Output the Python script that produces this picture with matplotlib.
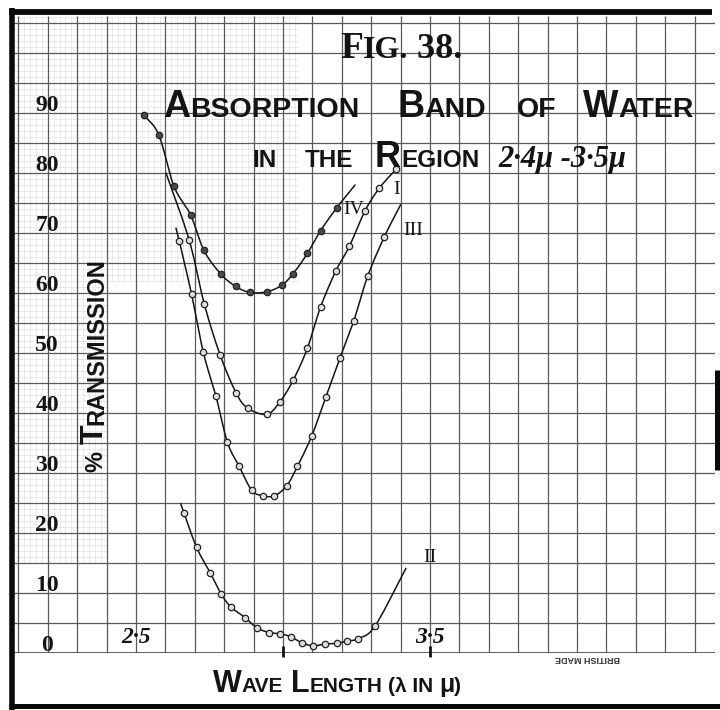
import numpy as np
import matplotlib
matplotlib.use("Agg")
import matplotlib.pyplot as plt
from matplotlib import font_manager
from matplotlib.lines import Line2D

# ---------------- data ----------------
# Curve IV
iv_x = [2.527, 2.578, 2.629, 2.686, 2.731, 2.788, 2.839, 2.888, 2.945, 2.996,
        3.034, 3.083, 3.128, 3.183]
iv_y = [89.7, 86.3, 77.8, 73.0, 67.1, 63.2, 61.1, 60.1, 60.2, 61.3,
        63.2, 66.6, 70.4, 74.2]
iv_line_start = None
iv_line_end = (3.245, 78.0)

# Curve I
i_x = [2.681, 2.732, 2.786, 2.840, 2.880, 2.945, 2.990, 3.035, 3.083, 3.128,
       3.180, 3.226, 3.279, 3.328, 3.384]
i_y = [68.8, 58.2, 49.7, 43.4, 40.8, 39.8, 41.9, 45.5, 50.8, 57.7,
       63.7, 67.8, 73.7, 77.5, 80.6]
i_line_start = (2.602, 80.0)
i_line_end = None

# Curve III
iii_x = [2.647, 2.689, 2.729, 2.772, 2.811, 2.851, 2.894, 2.933, 2.971, 3.013,
         3.049, 3.098, 3.146, 3.194, 3.241, 3.288, 3.345]
iii_y = [68.7, 59.8, 50.1, 42.8, 35.1, 31.1, 27.1, 26.2, 26.2, 27.9,
         31.1, 36.2, 42.7, 49.2, 55.4, 62.8, 69.4]
iii_line_start = (2.636, 70.8)
iii_line_end = (3.400, 74.7)

# Curve II
ii_x = [2.663, 2.706, 2.752, 2.789, 2.822, 2.871, 2.911, 2.953, 2.990, 3.027,
        3.064, 3.103, 3.143, 3.183, 3.219, 3.256, 3.313]
ii_y = [23.4, 17.6, 13.4, 9.9, 7.7, 5.9, 4.2, 3.4, 3.2, 2.7,
        1.7, 1.2, 1.5, 1.6, 2.0, 2.4, 4.5]
ii_line_start = (2.652, 24.9)
ii_line_end = (3.418, 14.1)

y_tick_values = [0, 10, 20, 30, 40, 50, 60, 70, 80, 90]
y_tick_labels = ["0", "10", "20", "30", "40", "50", "60", "70", "80", "90"]
x_mark_values = [2.5, 3.5]
x_mark_labels = ["2·5", "3·5"]
x_tick_marks = [3.0, 3.5]

curve_names = ["I", "II", "III", "IV"]
curve_label_pos = {"I": (3.387, 77.2), "II": (3.500, 15.9), "III": (3.443, 70.5), "IV": (3.240, 74.0)}

# ---------------- fonts ----------------
names = {f.name for f in font_manager.fontManager.ttflist}
SANS = "Liberation Sans Narrow" if "Liberation Sans Narrow" in names else "Liberation Sans"
SERIF = "Liberation Serif"
INK = "#141414"

W, H = 720, 710
fig = plt.figure(figsize=(7.2, 7.1), dpi=100)
fig.patch.set_facecolor("white")
renderer = fig.canvas.get_renderer()

# axes occupying the graph-paper area
left_px, right_px, top_px, bottom_px = 14, 715, 16, 653
ax = fig.add_axes([left_px / W, 1 - bottom_px / H,
                   (right_px - left_px) / W, (bottom_px - top_px) / H])
ax.set_facecolor("white")
xmin, xmax = 2.5 + (left_px - 136) / 294, 2.5 + (right_px - 136) / 294
ymin, ymax = 0.0, (bottom_px - top_px) / 6.0
ax.set_xlim(xmin, xmax)
ax.set_ylim(ymin, ymax)
for sp in ax.spines.values():
    sp.set_visible(False)
ax.tick_params(length=0, labelbottom=False, labelleft=False)

# fine grid in the upper-left part of the paper (faded elsewhere)
fine_col = "#dadada"
fx = np.arange(2.1, 3.06, 0.02)
ax.vlines(fx, 62, ymax, colors=fine_col, lw=0.4, zorder=0)
ax.hlines(np.arange(62, ymax, 1.0), xmin, 3.05, colors=fine_col, lw=0.4, zorder=0)
fx2 = np.arange(2.1, 2.42, 0.02)
ax.vlines(fx2, 15, 62, colors=fine_col, lw=0.4, zorder=0)
ax.hlines(np.arange(15, 62, 1.0), xmin, 2.4, colors=fine_col, lw=0.4, zorder=0)

# main grid
gx = np.round(np.arange(2.1, 4.45, 0.1), 3)
gy = np.arange(5, 106, 5)
ax.vlines(gx, ymin, ymax, colors="#5a5a5a", lw=0.9, zorder=1)
ax.hlines(gy, xmin, xmax, colors="#5a5a5a", lw=0.9, zorder=1)
ax.hlines([0], xmin, xmax, colors="#444444", lw=1.2, zorder=1)


def smooth(xs, ys, n=12):
    # Catmull-Rom through the given points, in pixel-like space
    px = np.asarray(xs) * 294.0
    py = np.asarray(ys) * 6.0
    P = np.column_stack([px, py])
    P = np.vstack([2 * P[0] - P[1], P, 2 * P[-1] - P[-2]])
    out = []
    for k in range(1, len(P) - 2):
        p0, p1, p2, p3 = P[k - 1], P[k], P[k + 1], P[k + 2]
        for t in np.linspace(0, 1, n, endpoint=False):
            t2, t3 = t * t, t * t * t
            pt = 0.5 * ((2 * p1) + (-p0 + p2) * t + (2 * p0 - 5 * p1 + 4 * p2 - p3) * t2
                        + (-p0 + 3 * p1 - 3 * p2 + p3) * t3)
            out.append(pt)
    out.append(P[-2])
    out = np.array(out)
    return out[:, 0] / 294.0, out[:, 1] / 6.0


curves = [
    (iv_x, iv_y, iv_line_start, iv_line_end, "#4a4a4a"),
    (i_x, i_y, i_line_start, i_line_end, "#dedede"),
    (iii_x, iii_y, iii_line_start, iii_line_end, "#dedede"),
    (ii_x, ii_y, ii_line_start, ii_line_end, "#dedede"),
]
for cx, cy, ls, le, mfc in curves:
    lx, ly = list(cx), list(cy)
    if ls is not None:
        lx = [ls[0]] + lx
        ly = [ls[1]] + ly
    if le is not None:
        lx = lx + [le[0]]
        ly = ly + [le[1]]
    sx, sy = smooth(lx, ly)
    ax.plot(sx, sy, color=INK, lw=1.1, zorder=3, solid_capstyle="round")
    ax.plot(cx, cy, ls="none", marker="o", ms=4.6, mfc=mfc, mec="#222222",
            mew=0.9, zorder=4)

for nm in curve_names:
    x, y = curve_label_pos[nm]
    ax.text(x, y, nm, family=SERIF, fontsize=14, color=INK, ha="center",
            va="center", zorder=5)

# y values written on the paper
for v, lab in zip(y_tick_values, y_tick_labels):
    ax.text(2.5 + (47 - 136) / 294, v + 0.4, lab, family=SERIF, weight="bold",
            fontsize=17, color=INK, ha="center", va="baseline", zorder=5)

# wavelength marks
for v, lab in zip(x_mark_values, x_mark_labels):
    ax.text(v, 1.6, lab, family=SERIF, style="italic", weight="bold",
            fontsize=17, color=INK, ha="center", va="baseline", zorder=5)
ax.vlines(x_tick_marks, -0.6, 1.2, colors=INK, lw=2.0, zorder=5, clip_on=False)


# ---------------- hand lettering ----------------
def lettering(x, y, pieces, family, weight="bold", style="normal", rotation=0):
    for s, size in pieces:
        t = fig.text(x / W, 1 - y / H, s, fontsize=size, family=family, weight=weight,
                     style=style, ha="left", va="baseline", rotation=rotation,
                     rotation_mode="anchor", color=INK)
        bb = t.get_window_extent(renderer=renderer)
        if rotation == 90:
            y -= bb.height
        else:
            x += bb.width


lettering(340, 58, [("F", 27), ("IG.", 23), (" 38.", 26)], SERIF)

lettering(163, 117, [("A", 27), ("BSORPTION", 20.5)], SANS)
lettering(397, 117, [("B", 27), ("AND", 20.5)], SANS)
lettering(517, 117, [("OF", 20.5)], SANS)
lettering(583, 117, [("W", 27), ("ATER", 20.5)], SANS)

lettering(252, 167, [("IN", 17.5)], SANS)
lettering(305, 167, [("THE", 17.5)], SANS)
lettering(375, 167, [("R", 26), ("EGION", 17.5)], SANS)
lettering(498, 167, [("2·4μ -3·5μ", 22)], SERIF, style="italic")

lettering(213, 692, [("W", 22), ("AVE", 15)], SANS)
lettering(291, 692, [("L", 22), ("ENGTH", 15)], SANS)
lettering(388, 692, [("(λ IN ", 15), ("μ", 18), (")", 15)], SANS)

lettering(103, 472, [("% ", 17), ("T", 23), ("RANSMISSION", 17)], SANS, rotation=90)

fig.text(587 / W, 1 - 658 / H, "BRITISH MADE", fontsize=6.5, family=SANS,
         weight="bold", color="#333333", rotation=180, ha="center", va="center")

# ---------------- sheet borders ----------------
def fline(x0, y0, x1, y1, lw):
    fig.add_artist(Line2D([x0 / W, x1 / W], [1 - y0 / H, 1 - y1 / H], color="#0a0a0a",
                          lw=lw, solid_capstyle="butt"))


fline(12, 8, 12, 710, 4.0)
fline(9, 12, 712, 12, 4.2)
fline(9, 706, 720, 706, 3.6)
fline(717, 370, 717, 470, 3.6)

fig.savefig("out.png", dpi=100, facecolor="white")
